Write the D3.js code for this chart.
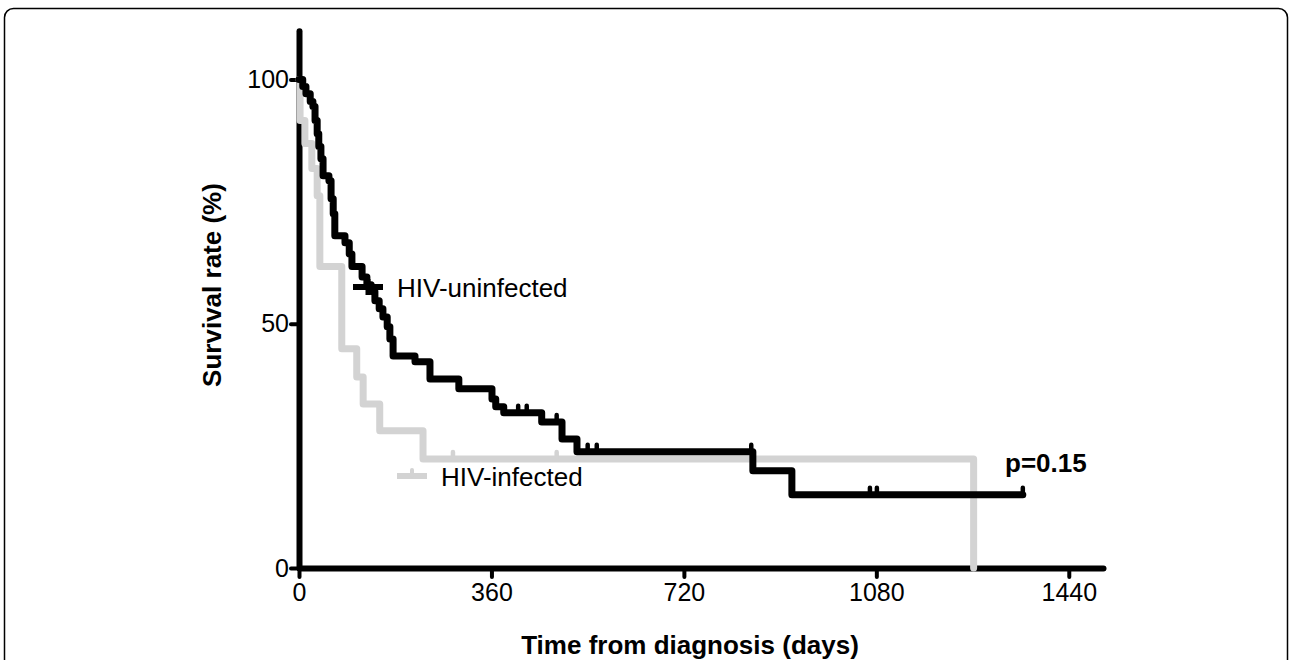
<!DOCTYPE html>
<html>
<head>
<meta charset="utf-8">
<script src="https://cdn.jsdelivr.net/npm/d3@7"></script>
<style>
  html, body { margin: 0; padding: 0; background: #fff; }
  svg { display: block; }
  text { font-family: "Liberation Sans", Arial, Helvetica, sans-serif; }
</style>
</head>
<body>
<svg id="chart" width="1292" height="660"></svg>
<script>
// ---- Data ----
const xTicks = [0, 360, 720, 1080, 1440];
const yTicks = [0, 50, 100];

// HIV-uninfected (black) Kaplan-Meier steps
const uninfTimes = [0, 7, 13, 21, 26, 30, 34, 37, 41, 45, 56, 60, 64, 67, 86, 94, 99, 118, 127, 135, 142, 150, 157, 165, 170, 176, 217, 245, 299, 361, 368, 383, 454, 492, 520, 849, 922];
const uninfSurv  = [100, 98.6, 97.1, 95.5, 94.5, 91.6, 88.9, 86.3, 83.8, 80.3, 79.3, 75.6, 72.5, 68.0, 66.6, 64.3, 61.7, 59.6, 58.0, 56.6, 54.7, 53.1, 51.4, 49.4, 46.9, 43.4, 42.2, 38.7, 36.7, 34.6, 33.0, 31.8, 29.9, 26.4, 23.8, 19.9, 15.0];
const uninfEnd = 1354;
const uninfCensored = [410, 426, 482, 540, 557, 846, 1068, 1081, 1354];

// HIV-infected (grey) Kaplan-Meier steps
const infTimes = [0, 2, 11, 24, 34, 39, 80, 108, 120, 151, 232, 1262];
const infSurv  = [100, 91.6, 86.9, 81.8, 76.2, 61.7, 44.9, 39.1, 33.6, 28.1, 22.3, 0];
const infEnd = 1262;
const infCensored = [288, 482];

// ---- Layout ----
const svg = d3.select("#chart");
const x = d3.scaleLinear().domain([0, 1504]).range([299, 1103]);
const y = d3.scaleLinear().domain([0, 110]).range([568, 30.7]);

// frame
svg.append("rect")
  .attr("x", 4.5).attr("y", 8.5)
  .attr("width", 1283).attr("height", 700)
  .attr("rx", 9).attr("ry", 9)
  .attr("fill", "none").attr("stroke", "#000").attr("stroke-width", 1.5);

// axes
const yAxis = svg.append("g").attr("transform", `translate(${x(0)},0)`)
  .call(d3.axisLeft(y).tickValues(yTicks).tickFormat(d3.format("d")).tickSize(8).tickSizeOuter(0).tickPadding(2));
const xAxis = svg.append("g").attr("transform", `translate(0,${y(0)})`)
  .call(d3.axisBottom(x).tickValues(xTicks).tickFormat(d3.format("d")).tickSize(9).tickSizeOuter(0).tickPadding(6));

[yAxis, xAxis].forEach(g => {
  g.select(".domain").attr("stroke", "#000").attr("stroke-width", 6).attr("stroke-linecap", "round");
  g.selectAll(".tick line").attr("stroke", "#000").attr("stroke-width", 4).attr("stroke-linecap", "round");
  g.selectAll(".tick text").attr("fill", "#000").style("font-size", "25px")
    .style("font-family", '"Liberation Sans", Arial, sans-serif');
});

// step function helpers
function series(times, surv, end) {
  const pts = times.map((t, i) => [t, surv[i]]);
  if (end > times[times.length - 1]) pts.push([end, surv[surv.length - 1]]);
  return pts;
}
function survAt(times, surv, t) {
  let v = surv[0];
  for (let i = 0; i < times.length; i++) if (times[i] <= t) v = surv[i];
  return v;
}
const line = d3.line().x(d => x(d[0])).y(d => y(d[1])).curve(d3.curveStepAfter);

function drawCurve(times, surv, end, censored, color) {
  const g = svg.append("g");
  g.append("path").datum(series(times, surv, end))
    .attr("d", line).attr("fill", "none").attr("stroke", color)
    .attr("stroke-width", 7).attr("stroke-linejoin", "round").attr("stroke-linecap", "round");
  g.selectAll("line.c").data(censored).enter().append("line")
    .attr("x1", d => x(d)).attr("x2", d => x(d))
    .attr("y1", d => y(survAt(times, surv, d)))
    .attr("y2", d => y(survAt(times, surv, d)) - 7)
    .attr("stroke", color).attr("stroke-width", 4.5).attr("stroke-linecap", "round");
}

drawCurve(infTimes, infSurv, infEnd, infCensored, "#d3d3d3");
drawCurve(uninfTimes, uninfSurv, uninfEnd, uninfCensored, "#000");

// legend
const legend = [
  { label: "HIV-uninfected", color: "#000", lx: 353, ly: 287, cross: true },
  { label: "HIV-infected", color: "#d3d3d3", lx: 397, ly: 476, cross: false }
];
legend.forEach(l => {
  svg.append("line").attr("x1", l.lx).attr("x2", l.lx + 30).attr("y1", l.ly).attr("y2", l.ly)
    .attr("stroke", l.color).attr("stroke-width", 6);
  if (l.cross) {
    svg.append("line").attr("x1", l.lx + 15).attr("x2", l.lx + 15).attr("y1", l.ly - 8).attr("y2", l.ly + 8)
      .attr("stroke", l.color).attr("stroke-width", 5);
  } else {
    svg.append("line").attr("x1", l.lx + 15).attr("x2", l.lx + 15).attr("y1", l.ly).attr("y2", l.ly - 6)
      .attr("stroke", l.color).attr("stroke-width", 4).attr("stroke-linecap", "round");
  }
  svg.append("text").attr("x", l.lx + 44).attr("y", l.ly + 10)
    .style("font-size", "26px").attr("fill", "#000").text(l.label);
});

// p-value
svg.append("text").attr("x", 1005).attr("y", 472)
  .style("font-size", "26px").style("font-weight", "bold").attr("fill", "#000").text("p=0.15");

// axis titles
svg.append("text").attr("x", 690).attr("y", 654).attr("text-anchor", "middle")
  .style("font-size", "26px").style("font-weight", "bold").text("Time from diagnosis (days)");
svg.append("text").attr("transform", "translate(221,285) rotate(-90)").attr("text-anchor", "middle")
  .style("font-size", "26px").style("font-weight", "bold").text("Survival rate (%)");
</script>
</body>
</html>
